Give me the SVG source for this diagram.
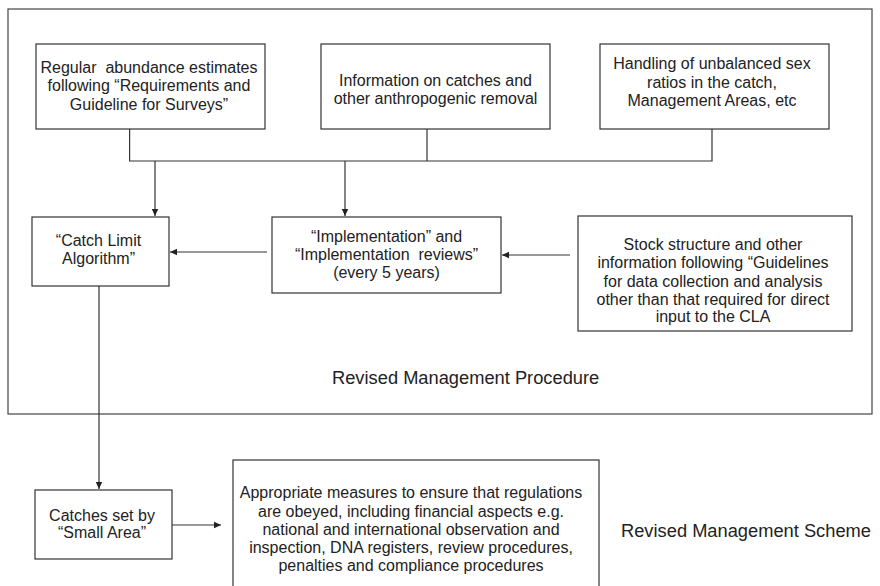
<svg xmlns="http://www.w3.org/2000/svg" width="880" height="586" viewBox="0 0 880 586">
<style>
.box{fill:#fff;stroke:#333;stroke-width:1.2}
.frame{fill:none;stroke:#444;stroke-width:1.2}
.t{font-family:"Liberation Sans",Arial,sans-serif;font-size:16px;fill:#222;text-anchor:middle;white-space:pre}
.big{font-family:"Liberation Sans",Arial,sans-serif;font-size:18.3px;fill:#222}
.c{fill:none;stroke:#333;stroke-width:1.2}
</style>
<defs>
<marker id="ah" markerWidth="8" markerHeight="8" refX="7" refY="4" orient="auto" markerUnits="userSpaceOnUse">
<path d="M0,0.8 L7,4 L0,7.2 Z" fill="#222"/>
</marker>
</defs>
<rect width="880" height="586" fill="#fff"/>
<g id="rmp-frame">
<rect class="frame" x="8" y="9" width="864" height="405"/>
<text class="big" x="332" y="384">Revised Management Procedure</text>
</g>
<g id="rms-label">
<text class="big" x="621" y="537">Revised Management Scheme</text>
</g>
<g id="connectors">
<path class="c" d="M129.6,129 V161 H712 V129"/>
<path class="c" d="M427,129 V161"/>
<path class="c" d="M155,161 V216" marker-end="url(#ah)"/>
<path class="c" d="M345,161 V216" marker-end="url(#ah)"/>
<path class="c" d="M267,252 H170" marker-end="url(#ah)"/>
<path class="c" d="M570,255 H502" marker-end="url(#ah)"/>
<path class="c" d="M99,286 V489" marker-end="url(#ah)"/>
<path class="c" d="M170,525 H221" marker-end="url(#ah)"/>
</g>
<g id="node-abundance">
<rect class="box" x="36" y="44" width="229" height="85"/>
<text class="t" x="149" y="72.7" xml:space="preserve">Regular  abundance estimates</text>
<text class="t" x="149" y="91.4">following “Requirements and</text>
<text class="t" x="149" y="110">Guideline for Surveys”</text>
</g>
<g id="node-catches">
<rect class="box" x="321" y="44" width="229" height="85"/>
<text class="t" x="435.5" y="86">Information on catches and</text>
<text class="t" x="435.5" y="104">other anthropogenic removal</text>
</g>
<g id="node-sexratio">
<rect class="box" x="600" y="44" width="229" height="85"/>
<text class="t" x="712" y="69">Handling of unbalanced sex</text>
<text class="t" x="712" y="87.5">ratios in the catch,</text>
<text class="t" x="712" y="106">Management Areas, etc</text>
</g>
<g id="node-cla">
<rect class="box" x="32" y="217" width="137" height="69"/>
<text class="t" x="98.5" y="245.5">“Catch Limit</text>
<text class="t" x="98.5" y="264">Algorithm”</text>
</g>
<g id="node-implementation">
<rect class="box" x="272" y="217" width="229" height="76"/>
<text class="t" x="386.5" y="242">“Implementation” and</text>
<text class="t" x="386.5" y="260" xml:space="preserve">“Implementation  reviews”</text>
<text class="t" x="386.5" y="278">(every 5 years)</text>
</g>
<g id="node-stock">
<rect class="box" x="578" y="216" width="274" height="115"/>
<text class="t" x="713" y="250">Stock structure and other</text>
<text class="t" x="713" y="268">information following “Guidelines</text>
<text class="t" x="713" y="286.5">for data collection and analysis</text>
<text class="t" x="713" y="304.5">other than that required for direct</text>
<text class="t" x="713" y="322">input to the CLA</text>
</g>
<g id="node-smallarea">
<rect class="box" x="35" y="490" width="137" height="69"/>
<text class="t" x="102" y="521">Catches set by</text>
<text class="t" x="102" y="538">“Small Area”</text>
</g>
<g id="node-measures">
<rect class="box" x="233" y="460" width="366" height="140"/>
<text class="t" x="411" y="498">Appropriate measures to ensure that regulations</text>
<text class="t" x="411" y="516.5">are obeyed, including financial aspects e.g.</text>
<text class="t" x="411" y="535">national and international observation and</text>
<text class="t" x="411" y="553">inspection, DNA registers, review procedures,</text>
<text class="t" x="411" y="571">penalties and compliance procedures</text>
</g>
</svg>
